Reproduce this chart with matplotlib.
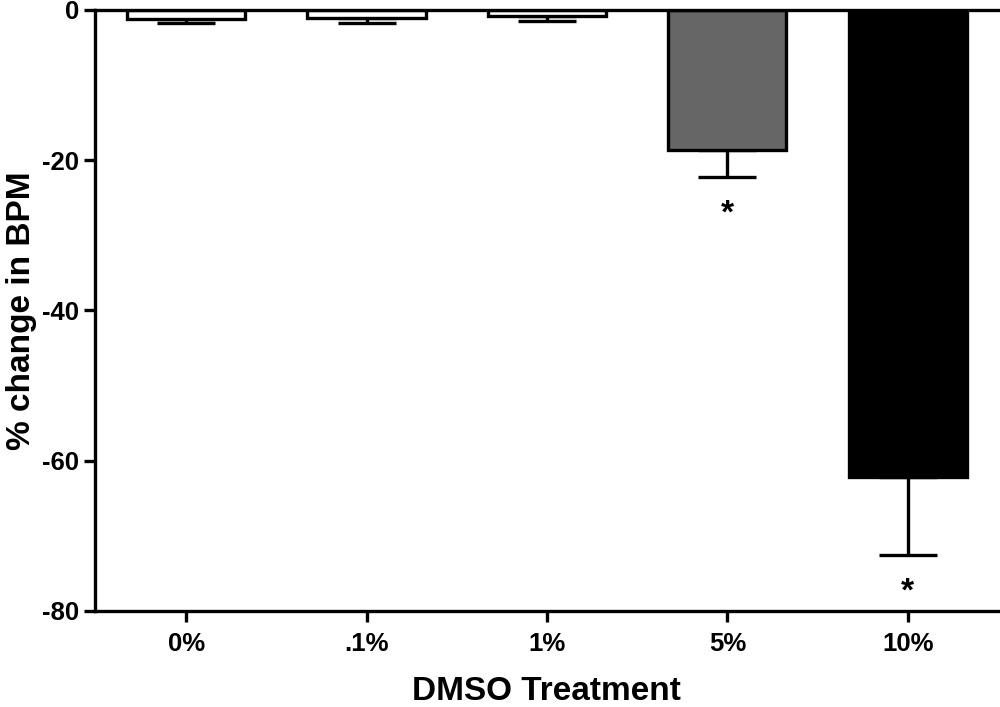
import numpy as np
import matplotlib.pyplot as plt

plt.rcParams['font.family'] = ['Liberation Sans', 'DejaVu Sans']
plt.rcParams['font.weight'] = 'bold'
plt.rcParams['axes.unicode_minus'] = False

groups = ['0%', '.1%', '1%', '5%', '10%']
means = [-1.2, -1.1, -0.8, -18.6, -62.2]
errors = [0.5, 0.7, 0.7, 3.6, 10.4]
colors = ['white', 'white', 'white', '#666666', 'black']
signif = [False, False, False, True, True]

fig = plt.figure(figsize=(10, 7.07), dpi=100)
ax = fig.add_axes([0.095, 0.136, 0.903, 0.85])

x = np.arange(len(groups))
lw = 2.4
ax.bar(x, means, width=0.655, color=colors, edgecolor='black', linewidth=lw, zorder=2)
ax.errorbar(x, means, yerr=[errors, np.zeros(len(errors))], fmt='none', ecolor='black',
            elinewidth=lw, capsize=21, capthick=lw, zorder=1)

for xi, m, e, s in zip(x, means, errors, signif):
    if s:
        ax.text(xi, m - e - 2.9, '*', ha='center', va='top', fontsize=24, fontweight='bold')

ax.set_xlim(-0.505, 4.5)
ax.set_ylim(-80, 0)
ax.set_yticks([0, -20, -40, -60, -80])
ax.set_xticks(x)
ax.set_xticklabels(groups)
ax.tick_params(axis='both', width=lw, length=8, labelsize=18.5)
ax.tick_params(axis='x', pad=7)
for side in ['left', 'bottom', 'top']:
    ax.spines[side].set_linewidth(lw)
ax.spines['right'].set_visible(False)

ax.set_ylabel('% change in BPM', fontsize=24, fontweight='bold')
ax.set_xlabel('DMSO Treatment', fontsize=24, fontweight='bold')
ax.yaxis.set_label_coords(-0.064, 0.5)
ax.xaxis.set_label_coords(0.5, -0.108)

fig.savefig('out.png', dpi=100)
